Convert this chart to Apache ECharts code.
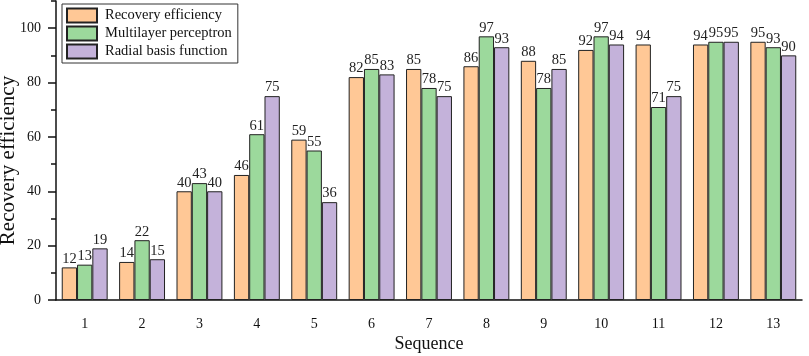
<!DOCTYPE html>
<html>
<head>
<meta charset="utf-8">
<script src="https://cdn.jsdelivr.net/npm/echarts@6/dist/echarts.min.js"></script>
<style>html,body{margin:0;padding:0;background:#fff}#c{width:809px;height:356px}</style>
</head>
<body>
<div id="c"></div>
<script>
var categories = ['1','2','3','4','5','6','7','8','9','10','11','12','13'];
var recoveryEfficiency = [12, 14, 40, 46, 59, 82, 85, 86, 88, 92, 94, 94, 95];
var multilayerPerceptron = [13, 22, 43, 61, 55, 85, 78, 97, 78, 97, 71, 95, 93];
var radialBasisFunction = [19, 15, 40, 75, 36, 83, 75, 93, 85, 94, 75, 95, 90];
var seriesNames = ['Recovery efficiency', 'Multilayer perceptron', 'Radial basis function'];
var majorTicks = [0, 20, 40, 60, 80, 100];
var minorTicks = [10, 30, 50, 70, 90, 110];

var FONT = 'Liberation Serif';
var colors = ['#FFC896', '#9CD99C', '#C4B2DA'];
function mk(name, data, color) {
  return {
    name: name, type: 'bar', data: data, xAxisIndex: 0, yAxisIndex: 0,
    barGap: '0%', barCategoryGap: '20%',
    itemStyle: { color: color, borderColor: '#222', borderWidth: 1 },
    label: { show: true, position: 'top', distance: 1, fontFamily: FONT, fontSize: 14.5, color: '#222' }
  };
}
var chart = echarts.init(document.getElementById('c'), null, { renderer: 'canvas' });
chart.setOption({
  animation: false,
  backgroundColor: '#fff',
  grid: { left: 56, right: 7, top: 1, bottom: 56, containLabel: false, outerBoundsMode: 'none' },
  legend: {
    orient: 'vertical', left: 62, top: 4,
    icon: 'rect',
    itemWidth: 30, itemHeight: 14, itemGap: 1,
    padding: [3, 6, 3, 4],
    borderColor: '#333', borderWidth: 1,
    textStyle: { fontFamily: FONT, fontSize: 14.5, lineHeight: 17, color: '#111', padding: [0, 0, 0, 3] },
    data: seriesNames
  },
  xAxis: [{
    type: 'category', data: categories, position: 'bottom',
    name: 'Sequence', nameLocation: 'middle', nameGap: 35, nameMoveOverlap: false,
    nameTextStyle: { fontFamily: FONT, fontSize: 18, color: '#111' },
    axisLine: { lineStyle: { color: '#111', width: 1.5 } },
    axisTick: { alignWithLabel: true, length: 7, lineStyle: { color: '#111', width: 1.5 } },
    axisLabel: { fontFamily: FONT, fontSize: 14, color: '#111', margin: 17 }
  }, {
    type: 'category', data: categories, position: 'bottom',
    axisLine: { show: false },
    axisTick: { length: 4, lineStyle: { color: '#111', width: 1.5 } },
    axisLabel: { show: false }
  }],
  yAxis: [{
    type: 'value', min: 0, max: 110, interval: 20,
    name: 'Recovery efficiency', nameLocation: 'middle', nameGap: 37, nameMoveOverlap: false,
    nameTextStyle: { fontFamily: FONT, fontSize: 21, color: '#111', padding: [0, 20, 0, 0] },
    axisLine: { show: true, lineStyle: { color: '#111', width: 1.5 } },
    axisTick: { show: true, length: 8, customValues: majorTicks, lineStyle: { color: '#111', width: 1.5 } },
    axisLabel: { fontFamily: FONT, fontSize: 14, color: '#111', margin: 15, customValues: majorTicks },
    splitLine: { show: false }
  }, {
    type: 'value', min: 0, max: 110, position: 'left',
    axisLine: { show: false },
    axisTick: { show: true, length: 5, customValues: minorTicks, lineStyle: { color: '#111', width: 1.5 } },
    axisLabel: { show: false },
    splitLine: { show: false }
  }],
  series: [
    mk(seriesNames[0], recoveryEfficiency, colors[0]),
    mk(seriesNames[1], multilayerPerceptron, colors[1]),
    mk(seriesNames[2], radialBasisFunction, colors[2])
  ]
});
</script>
</body>
</html>
